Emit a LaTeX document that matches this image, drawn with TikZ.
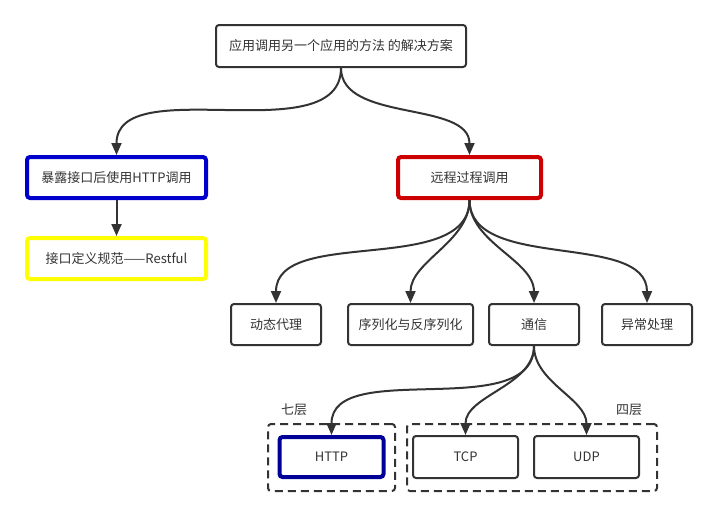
\documentclass[tikz,border=0pt]{standalone}
\usepackage{fontspec}
\setmainfont{Noto Sans CJK SC}
\usetikzlibrary{arrows.meta}
\definecolor{linegray}{HTML}{333333}
\definecolor{boxblue}{HTML}{0000CC}
\definecolor{boxred}{HTML}{CC0000}
\definecolor{boxyellow}{HTML}{FFFF00}
\definecolor{darkblue}{HTML}{000099}

\tikzset{
  box/.style={draw=linegray, line width=2pt, rounded corners=3pt,
    text=linegray, font=\fontsize{13}{15}\selectfont,
    minimum width=90pt, minimum height=41pt, inner sep=2pt},
  markbox/.style={box, line width=4pt, minimum width=179pt, minimum height=41pt},
  group/.style={draw=linegray, line width=2pt, rounded corners=3pt,
    dash pattern=on 8pt off 5pt, minimum height=67pt},
  edge/.style={draw=linegray, line width=2pt,
    -{Triangle[length=12pt,width=10pt]}},
  bend/.style={out=-90, in=90, looseness=#1},
  bend/.default=0.9
}

\begin{document}
\begin{tikzpicture}[x=1pt,y=-1pt]
    \useasboundingbox (0,0) rectangle (718,515);

    % Wurzel
    \node[box, minimum width=250pt, minimum height=42pt] (root) at (341,46) {应用调用另一个应用的方法 的解决方案};

    % zwei Wege
    \node[markbox, draw=boxblue] (expose) at (116.5,177.5) {暴露接口后使用HTTP调用};
    \node[markbox, draw=boxyellow] (rest) at (116.5,258.5) {接口定义规范——Restful};
    \node[markbox, draw=boxred, minimum width=143pt] (rpc) at (469.5,177.5) {远程过程调用};

    % Bestandteile RPC
    \node[box] (proxy) at (276,324.5) {动态代理};
    \node[box, minimum width=125pt] (serial) at (410.5,324.5) {序列化与反序列化};
    \node[box] (comm) at (534,324.5) {通信};
    \node[box] (error) at (647,324.5) {异常处理};

    % Protokolle
    \node[group, minimum width=127pt] (l7) at (331.5,457.5) {};
    \node[group, minimum width=250pt] (l4) at (532,457.5) {};
    \node[markbox, draw=darkblue, minimum width=104pt, minimum height=40pt] (http) at (331.5,457) {HTTP};
    \node[box, minimum width=105pt, minimum height=42pt] (tcp) at (465.5,457) {TCP};
    \node[box, minimum width=105pt, minimum height=42pt] (udp) at (586.5,457) {UDP};
    \node[text=linegray, font=\fontsize{13}{15}\selectfont] (l7label) at (294,410) {七层};
    \node[text=linegray, font=\fontsize{13}{15}\selectfont] (l4label) at (629,410) {四层};

    % Pfeile
    \draw[edge] (root.south) to[bend] (expose.north);
    \draw[edge] (root.south) to[bend] (rpc.north);
    \draw[edge] (expose.south) -- (rest.north);
    \foreach \n in {proxy,serial,comm,error}
        \draw[edge] (rpc.south) to[bend] (\n.north);
    \draw[edge] (comm.south) to[bend] (http.north);
    \draw[edge] (comm.south) to[bend] (tcp.north);
    \draw[edge] (comm.south) to[bend] (udp.north);
\end{tikzpicture}
\end{document}
